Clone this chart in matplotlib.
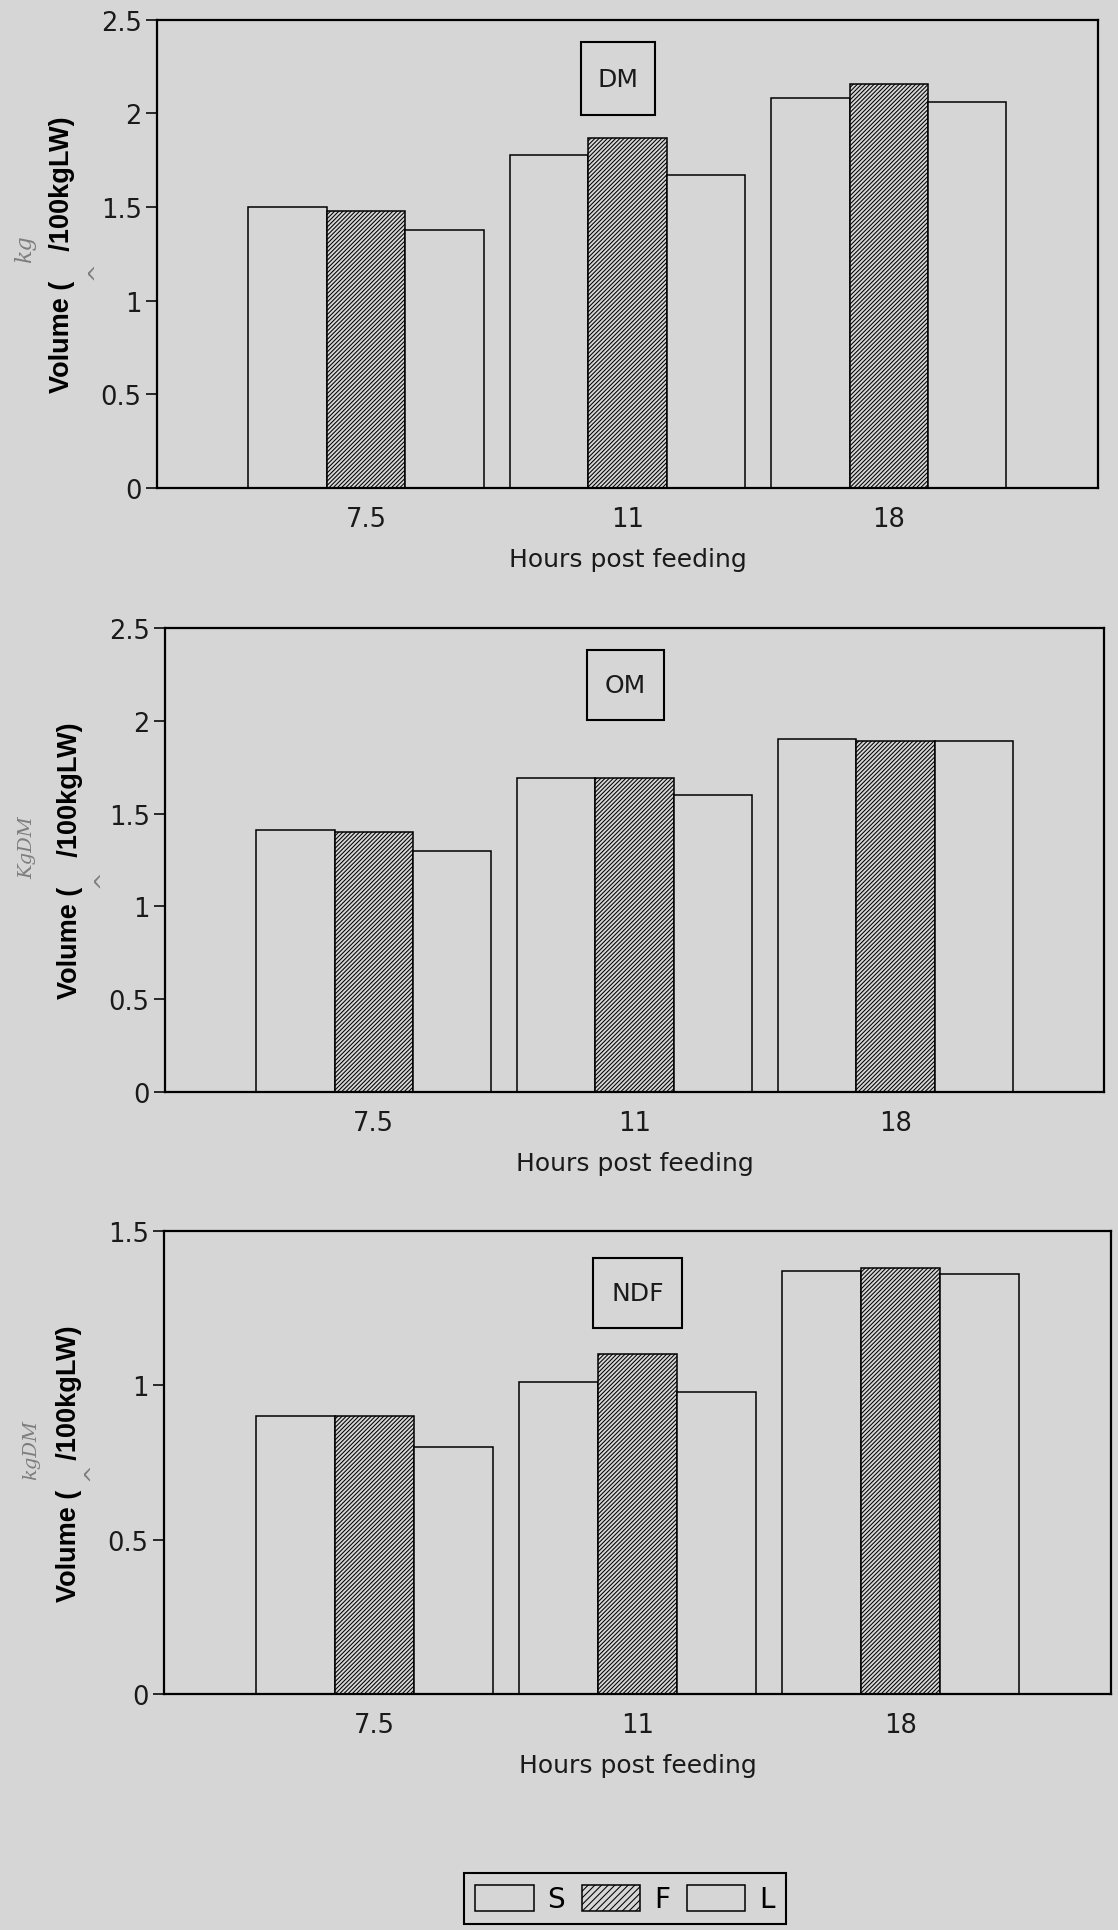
import numpy as np
import matplotlib
matplotlib.use('Agg')
import matplotlib.pyplot as plt
from matplotlib.patches import Patch, Rectangle

# hours post feeding (categories)
hours = ['7.5', '11', '18']
series = ['S', 'F', 'L']

# DM panel
dm_S = [1.50, 1.78, 2.08]
dm_F = [1.48, 1.87, 2.16]
dm_L = [1.38, 1.67, 2.06]

# OM panel
om_S = [1.41, 1.69, 1.90]
om_F = [1.40, 1.69, 1.89]
om_L = [1.30, 1.60, 1.89]

# NDF panel
ndf_S = [0.90, 1.01, 1.37]
ndf_F = [0.90, 1.10, 1.38]
ndf_L = [0.80, 0.98, 1.36]

bg = '#d6d6d6'
plt.rcParams['hatch.linewidth'] = 0.75
plt.rcParams['font.family'] = 'DejaVu Sans'

fig = plt.figure(figsize=(11.18, 19.31), dpi=100, facecolor=bg)

# name, S, F, L, ymax, yticks, yticklabels, axes rect, label box (cx, cy, w, h) in axes fraction
panels = [
    ('DM', dm_S, dm_F, dm_L, 2.5, [0, 0.5, 1, 1.5, 2, 2.5], ['0', '0.5', '1', '1.5', '2', '2.5'],
     [0.1404, 0.7468, 0.8417, 0.2424], (0.49, 0.874, 0.0786, 0.156)),
    ('OM', om_S, om_F, om_L, 2.5, [0, 0.5, 1, 1.5, 2, 2.5], ['0', '0.5', '1', '1.5', '2', '2.5'],
     [0.1476, 0.4340, 0.8400, 0.2403], (0.49, 0.877, 0.082, 0.153)),
    ('NDF', ndf_S, ndf_F, ndf_L, 1.5, [0, 0.5, 1, 1.5], ['0', '0.5', '1', '1.5'],
     [0.1467, 0.1222, 0.8470, 0.2398], (0.50, 0.866, 0.095, 0.153)),
]

x = np.arange(len(hours))
w = 0.3
dense = '////////'

for name, s, f, l, ymax, yt, ytl, rect, box in panels:
    ax = fig.add_axes(rect)
    ax.set_facecolor(bg)
    ax.bar(x - w, s, w, facecolor=bg, edgecolor='black', linewidth=1.1)
    ax.bar(x, f, w, facecolor=bg, edgecolor='black', linewidth=1.1, hatch=dense)
    ax.bar(x + w, l, w, facecolor=bg, edgecolor='black', linewidth=1.1)
    ax.set_xlim(-0.8, 2.8)
    ax.set_ylim(0, ymax)
    ax.set_yticks(yt)
    ax.set_yticklabels(ytl)
    ax.set_xticks(x)
    ax.set_xticklabels(hours)
    ax.tick_params(axis='y', direction='out', length=8, width=1.3, pad=3, labelsize=18.5, colors='#1a1a1a')
    ax.tick_params(axis='x', length=0, pad=13, labelsize=18.5, colors='#1a1a1a')
    for sp in ax.spines.values():
        sp.set_linewidth(1.6)
        sp.set_color('black')
    ax.set_xlabel('Hours post feeding', fontsize=18, labelpad=11, color='#1a1a1a')
    ax.set_ylabel('Volume (    /100kgLW)', fontsize=19.5, fontweight='bold',
                  family='Liberation Sans')
    ax.yaxis.set_label_coords(-0.087, 0.5)
    cx, cy, bw, bh = box
    ax.add_patch(Rectangle((cx - bw / 2, cy - bh / 2), bw, bh, transform=ax.transAxes,
                           facecolor=bg, edgecolor='black', linewidth=1.5, zorder=4))
    ax.text(cx, cy, name, transform=ax.transAxes, ha='center', va='center',
            fontsize=18, color='#1a1a1a', zorder=5)

# handwritten unit corrections
hand = '#7d7d7d'
fig.text(0.022, 0.871, 'kg', rotation=90, ha='center', va='center', fontsize=16,
         style='italic', family='DejaVu Serif', color=hand)
fig.text(0.086, 0.860, '^', rotation=90, ha='center', va='center', fontsize=16, color=hand)
fig.text(0.024, 0.561, 'KgDM', rotation=90, ha='center', va='center', fontsize=14,
         style='italic', family='DejaVu Serif', color=hand)
fig.text(0.092, 0.545, '^', rotation=90, ha='center', va='center', fontsize=16, color=hand)
fig.text(0.028, 0.249, 'kgDM', rotation=90, ha='center', va='center', fontsize=14,
         style='italic', family='DejaVu Serif', color=hand)
fig.text(0.083, 0.238, '^', rotation=90, ha='center', va='center', fontsize=16, color=hand)

handles = [Patch(facecolor=bg, edgecolor='black', linewidth=1.1),
           Patch(facecolor=bg, edgecolor='black', linewidth=1.1, hatch='/////'),
           Patch(facecolor=bg, edgecolor='black', linewidth=1.1)]
leg = fig.legend(handles, series, ncol=3, loc='lower center', bbox_to_anchor=(0.559, 0.0),
                 fontsize=20, frameon=True, fancybox=False, handlelength=2.1, handleheight=1.1,
                 handletextpad=0.5, columnspacing=0.6, borderpad=0.4, borderaxespad=0.2)
leg.get_frame().set_facecolor(bg)
leg.get_frame().set_edgecolor('black')
leg.get_frame().set_linewidth(1.5)
leg.get_frame().set_alpha(1)

fig.savefig('out.png', dpi=100, facecolor=bg)
